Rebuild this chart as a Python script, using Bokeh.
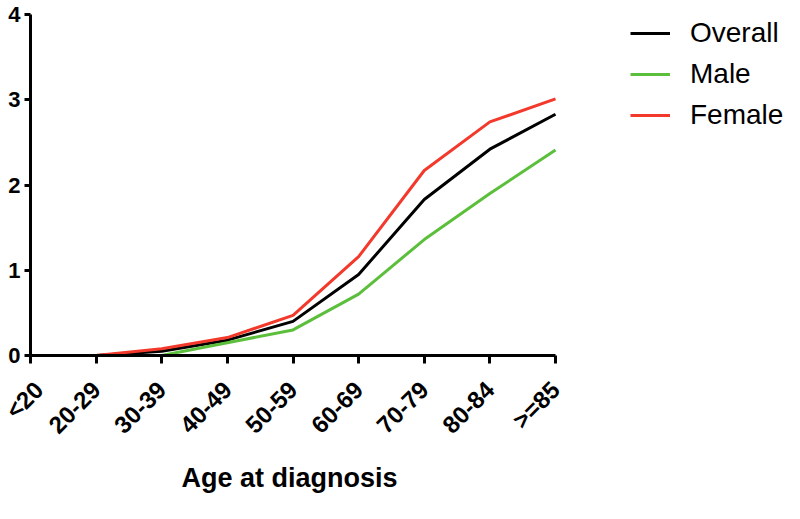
import math
from bokeh.plotting import figure
from bokeh.models import Range1d, FixedTicker, Legend, LegendItem, Title
from bokeh.embed import file_html
from bokeh.resources import INLINE

# ---- data ----
categories = ["<20", "20-29", "30-39", "40-49", "50-59", "60-69", "70-79", "80-84", ">=85"]
nan = float("nan")
overall = [nan, 0.0, 0.05, 0.18, 0.40, 0.95, 1.83, 2.42, 2.83]
male = [nan, 0.0, 0.0, 0.15, 0.30, 0.72, 1.36, 1.90, 2.41]
female = [nan, 0.0, 0.08, 0.21, 0.47, 1.16, 2.17, 2.74, 3.01]
y_ticks = [0, 1, 2, 3, 4]
x_title = "Age at diagnosis"
series_names = ["Overall", "Male", "Female"]

xs = list(range(len(categories)))

# ---- layout ----
W, H = 784, 503
left, top, bottom_border = 30, 14, 148
axis_right_px = 555
frame_w = W - left
step_px = (axis_right_px - left) / (len(categories) - 1)
x_end = frame_w / step_px
frame_bottom = H - bottom_border

FONT = "Liberation Sans"

p = figure(width=W, height=H, output_backend="svg", toolbar_location=None,
           x_range=Range1d(0, x_end), y_range=Range1d(0, 4),
           min_border_left=left, min_border_right=0, min_border_top=top,
           min_border_bottom=bottom_border)
p.outline_line_color = None
p.grid.visible = False
p.background_fill_color = "white"
p.border_fill_color = "white"

colors = ["#000000", "#5cbf3c", "#f2392b"]
renderers = []
for vals, c in zip([overall, male, female], colors):
    r = p.line(xs, vals, line_color=c, line_width=3)
    renderers.append(r)

for ax in (p.xaxis[0], p.yaxis[0]):
    ax.axis_line_width = 3
    ax.major_tick_line_width = 3
    ax.major_tick_in = 0
    ax.minor_tick_line_color = None
    ax.major_label_text_font = FONT
    ax.major_label_text_font_style = "bold"
    ax.major_label_text_color = "black"

xa = p.xaxis[0]
xa.bounds = (0, len(categories) - 1)
xa.ticker = FixedTicker(ticks=xs)
xa.major_label_overrides = {i: c for i, c in enumerate(categories)}
xa.major_label_orientation = math.pi / 4
xa.major_label_text_font_size = "24px"
xa.major_tick_out = 8
xa.major_label_standoff = 22

ya = p.yaxis[0]
ya.bounds = (0, 4)
ya.ticker = FixedTicker(ticks=y_ticks)
ya.major_label_text_font_size = "22px"
ya.major_tick_out = 6
ya.major_label_standoff = 4

t = Title(text=x_title, align="left", offset=151, standoff=21,
          text_font=FONT, text_font_style="bold", text_font_size="27px",
          text_color="black")
p.add_layout(t, "below")

row_h, gap = 34, 7
legend_top = 16
legend_bottom = legend_top + 3 * row_h + 2 * gap
legend = Legend(items=[LegendItem(label=n, renderers=[r]) for n, r in zip(series_names, renderers)],
                location=(630 - left, frame_bottom - legend_bottom))
legend.border_line_color = None
legend.background_fill_alpha = 0
legend.padding = 0
legend.margin = 0
legend.spacing = gap
legend.glyph_width = 40
legend.glyph_height = row_h
legend.label_height = row_h
legend.label_standoff = 20
legend.label_text_font = FONT
legend.label_text_font_size = "28px"
legend.label_text_color = "black"
p.add_layout(legend, "center")

open("out.html", "w").write(file_html(p, INLINE))
